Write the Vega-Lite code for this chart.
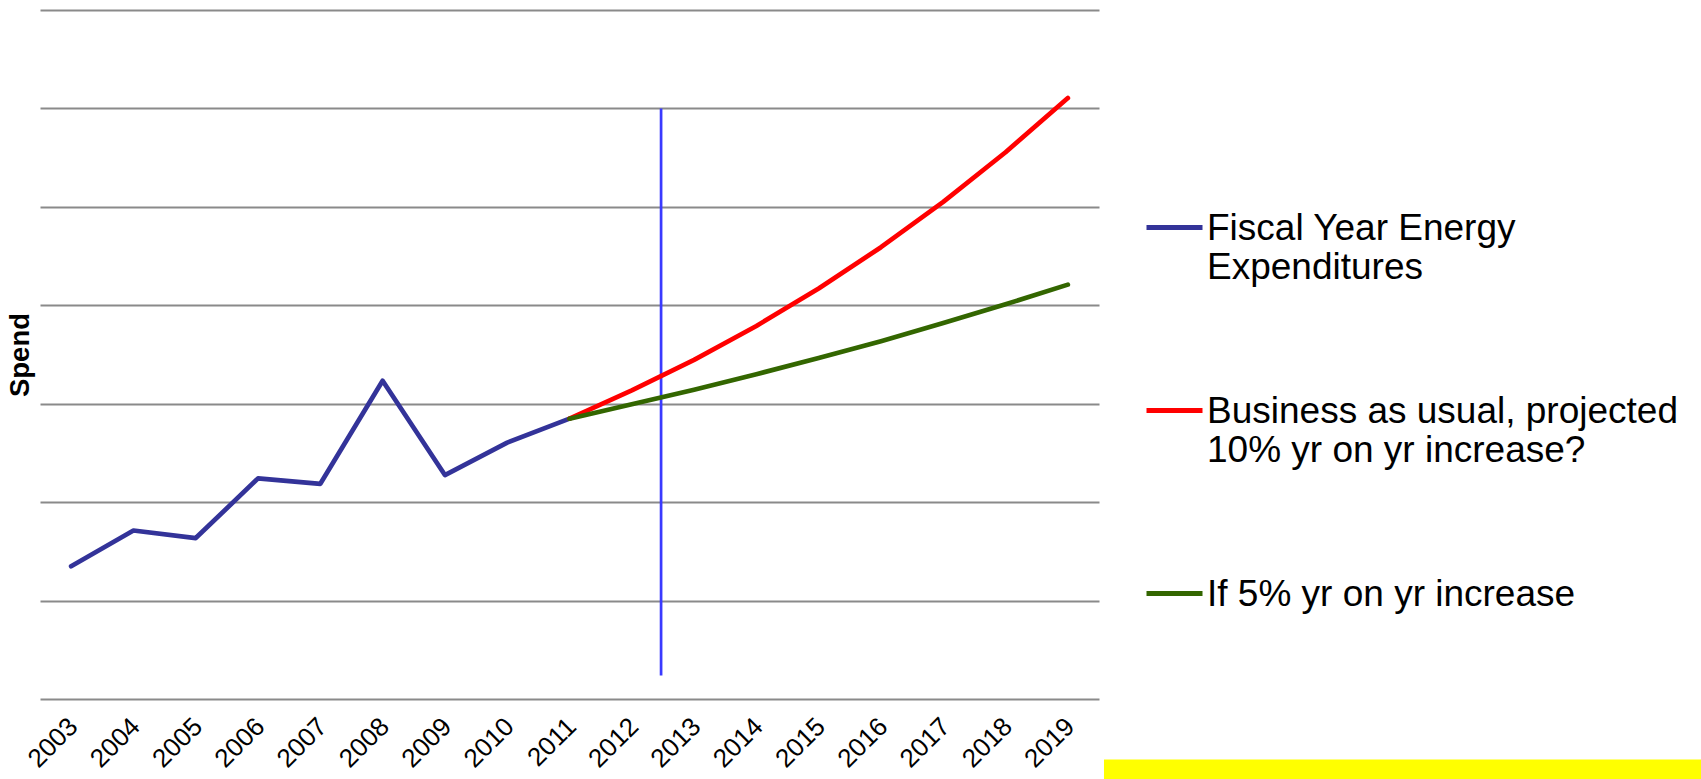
{
  "$schema": "https://vega.github.io/schema/vega-lite/v6.json",
  "autosize": {"type": "none"},
  "padding": {"left": 40, "top": 10, "right": 602, "bottom": 80},
  "width": 1059,
  "height": 689,
  "background": "white",
  "config": {
    "view": {"stroke": null},
    "font": "Liberation Sans"
  },
  "datasets": {
    "spend": [
      {"year": 2003, "series": "Fiscal Year Energy Expenditures", "spend": 134.8},
      {"year": 2004, "series": "Fiscal Year Energy Expenditures", "spend": 171.2},
      {"year": 2005, "series": "Fiscal Year Energy Expenditures", "spend": 163.5},
      {"year": 2006, "series": "Fiscal Year Energy Expenditures", "spend": 224.1},
      {"year": 2007, "series": "Fiscal Year Energy Expenditures", "spend": 218.6},
      {"year": 2008, "series": "Fiscal Year Energy Expenditures", "spend": 323.3},
      {"year": 2009, "series": "Fiscal Year Energy Expenditures", "spend": 227.5},
      {"year": 2010, "series": "Fiscal Year Energy Expenditures", "spend": 260.5},
      {"year": 2011, "series": "Fiscal Year Energy Expenditures", "spend": 284.8},
      {"year": 2011, "series": "Business as usual, projected 10% yr on yr increase?", "spend": 284.8},
      {"year": 2012, "series": "Business as usual, projected 10% yr on yr increase?", "spend": 313.5},
      {"year": 2013, "series": "Business as usual, projected 10% yr on yr increase?", "spend": 344.6},
      {"year": 2014, "series": "Business as usual, projected 10% yr on yr increase?", "spend": 379.0},
      {"year": 2015, "series": "Business as usual, projected 10% yr on yr increase?", "spend": 417.0},
      {"year": 2016, "series": "Business as usual, projected 10% yr on yr increase?", "spend": 459.0},
      {"year": 2017, "series": "Business as usual, projected 10% yr on yr increase?", "spend": 505.0},
      {"year": 2018, "series": "Business as usual, projected 10% yr on yr increase?", "spend": 555.5},
      {"year": 2019, "series": "Business as usual, projected 10% yr on yr increase?", "spend": 610.5},
      {"year": 2011, "series": "If 5% yr on yr increase", "spend": 284.8},
      {"year": 2012, "series": "If 5% yr on yr increase", "spend": 299.5},
      {"year": 2013, "series": "If 5% yr on yr increase", "spend": 314.2},
      {"year": 2014, "series": "If 5% yr on yr increase", "spend": 330.0},
      {"year": 2015, "series": "If 5% yr on yr increase", "spend": 346.5},
      {"year": 2016, "series": "If 5% yr on yr increase", "spend": 363.5},
      {"year": 2017, "series": "If 5% yr on yr increase", "spend": 382.0},
      {"year": 2018, "series": "If 5% yr on yr increase", "spend": 401.0},
      {"year": 2019, "series": "If 5% yr on yr increase", "spend": 421.0}
    ],
    "divider": [
      {"year": 2012.47, "top": 600, "bottom": 24}
    ],
    "band": [
      {"start": 2019.58, "end": 2029.2, "top": -61.4, "bottom": -82}
    ]
  },
  "encoding": {
    "x": {
      "field": "year",
      "type": "quantitative",
      "scale": {"domain": [2002.5, 2019.5], "nice": false, "zero": false},
      "axis": {
        "title": null,
        "values": [2003, 2004, 2005, 2006, 2007, 2008, 2009, 2010, 2011, 2012, 2013, 2014, 2015, 2016, 2017, 2018, 2019],
        "format": "d",
        "labelAngle": -45,
        "labelFontSize": 26,
        "labelColor": "#000000",
        "labelBaseline": "middle",
        "labelAlign": "right",
        "labelPadding": 23,
        "labelOffset": 2,
        "labelFlush": false,
        "labelOverlap": false,
        "domain": false,
        "ticks": false,
        "grid": false
      }
    },
    "y": {
      "field": "spend",
      "type": "quantitative",
      "scale": {"domain": [0, 700], "nice": false},
      "axis": {
        "title": "Spend",
        "titleFontSize": 27.5,
        "titleFontWeight": "bold",
        "titleColor": "#000000",
        "titlePadding": 6,
        "values": [0, 100, 200, 300, 400, 500, 600, 700],
        "labels": false,
        "ticks": false,
        "domain": false,
        "grid": true,
        "gridColor": "#8a8a8a",
        "gridWidth": 2,
        "gridOpacity": 1
      }
    }
  },
  "layer": [
    {
      "data": {"name": "divider"},
      "mark": {"type": "rule", "color": "#3a3aff", "strokeWidth": 2.7},
      "encoding": {
        "x": {"field": "year", "type": "quantitative"},
        "y": {"field": "top", "type": "quantitative"},
        "y2": {"field": "bottom"}
      }
    },
    {
      "data": {"name": "spend"},
      "mark": {"type": "line", "strokeWidth": 4.7, "strokeCap": "round", "strokeJoin": "round"},
      "encoding": {
        "color": {
          "field": "series",
          "type": "nominal",
          "sort": ["Fiscal Year Energy Expenditures", "Business as usual, projected 10% yr on yr increase?", "If 5% yr on yr increase"],
          "scale": {
            "domain": ["Fiscal Year Energy Expenditures", "Business as usual, projected 10% yr on yr increase?", "If 5% yr on yr increase"],
            "range": ["#333399", "#ff0000", "#336600"]
          },
          "legend": {
            "title": null,
            "orient": "none",
            "legendX": 1104,
            "legendY": 187,
            "symbolType": "stroke",
            "symbolSize": 3136,
            "symbolStrokeWidth": 5,
            "labelFontSize": 37,
            "labelColor": "#000000",
            "labelLimit": 600,
            "labelOffset": 2,
            "labelBaseline": "top",
            "rowPadding": 94,
            "encoding": {"labels": {"dy": {"value": -17}}},
            "labelExpr": "datum.label == 'Fiscal Year Energy Expenditures' ? ['Fiscal Year Energy', 'Expenditures'] : datum.label == 'Business as usual, projected 10% yr on yr increase?' ? ['Business as usual, projected', '10% yr on yr increase?'] : datum.label"
          }
        }
      }
    },
    {
      "data": {"name": "band"},
      "mark": {"type": "rect", "color": "#ffff00", "clip": false},
      "encoding": {
        "x": {"field": "start", "type": "quantitative"},
        "x2": {"field": "end"},
        "y": {"field": "top", "type": "quantitative"},
        "y2": {"field": "bottom"}
      }
    }
  ]
}
